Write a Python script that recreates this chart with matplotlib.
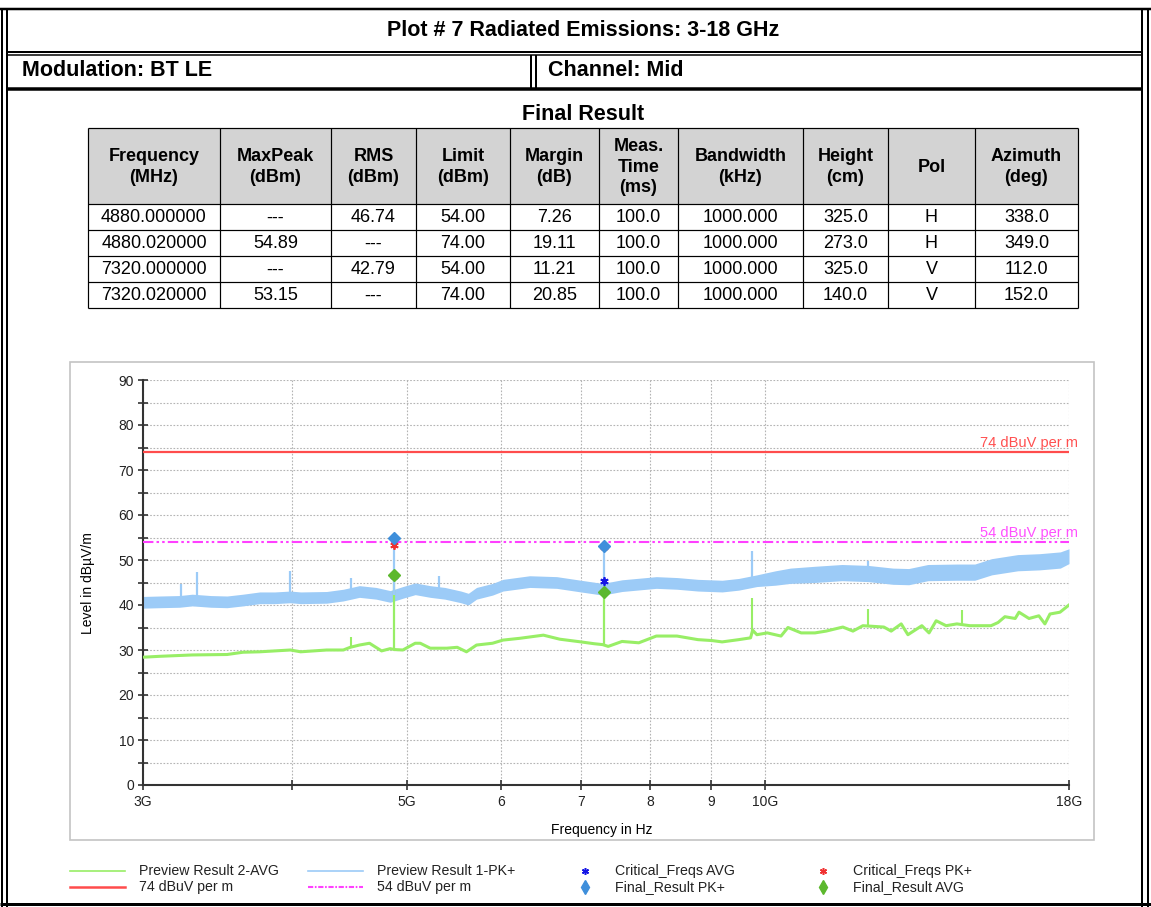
import numpy as np
import matplotlib
matplotlib.use('Agg')
import matplotlib.pyplot as plt
from matplotlib.patches import Rectangle
from matplotlib.lines import Line2D
from matplotlib.ticker import FixedLocator, NullFormatter

# ---------------- data ----------------
title = "Plot # 7 Radiated Emissions: 3-18 GHz"
modulation = "Modulation: BT LE"
channel = "Channel: Mid"

col_headers = ["Frequency\n(MHz)", "MaxPeak\n(dBm)", "RMS\n(dBm)", "Limit\n(dBm)", "Margin\n(dB)",
               "Meas.\nTime\n(ms)", "Bandwidth\n(kHz)", "Height\n(cm)", "Pol", "Azimuth\n(deg)"]
frequency_mhz = ["4880.000000", "4880.020000", "7320.000000", "7320.020000"]
maxpeak = ["---", "54.89", "---", "53.15"]
rms = ["46.74", "---", "42.79", "---"]
limit = ["54.00", "74.00", "54.00", "74.00"]
margin = ["7.26", "19.11", "11.21", "20.85"]
meas_time = ["100.0", "100.0", "100.0", "100.0"]
bandwidth = ["1000.000", "1000.000", "1000.000", "1000.000"]
height = ["325.0", "273.0", "325.0", "140.0"]
pol = ["H", "H", "V", "V"]
azimuth = ["338.0", "349.0", "112.0", "152.0"]

# Preview Result 1-PK+ (band envelope, GHz / dBuV/m)
pk_freq = [3.00, 3.10, 3.22, 3.30, 3.42, 3.53, 3.64, 3.76, 3.87, 3.99,
           4.07, 4.28, 4.42, 4.56, 4.71, 4.84, 4.96, 5.08, 5.23, 5.38,
           5.55, 5.63, 5.72, 5.90, 6.02, 6.34, 6.68, 7.00, 7.30, 7.58,
           8.10, 8.43, 8.78, 9.20, 9.50, 9.84, 10.2, 10.5, 11.0, 11.6,
           12.2, 12.8, 13.2, 13.7, 14.5, 15.0, 15.5, 16.3, 17.0, 17.7, 18.0]
pk_low = [39.3, 39.4, 39.5, 39.8, 39.5, 39.4, 39.8, 40.3, 40.3, 40.5,
          40.3, 40.4, 40.9, 41.7, 41.3, 40.6, 41.5, 42.3, 41.7, 41.3,
          40.5, 40.0, 41.3, 42.2, 43.1, 43.9, 43.7, 42.9, 42.2, 43.0,
          43.7, 43.5, 43.1, 42.9, 43.3, 44.1, 44.4, 44.8, 45.0, 45.4,
          45.2, 44.6, 44.5, 45.4, 45.5, 45.5, 46.7, 47.6, 47.8, 48.2, 49.2]
pk_high = [41.9, 42.0, 42.1, 42.4, 42.1, 42.0, 42.4, 42.9, 42.9, 43.1,
           42.9, 43.0, 43.5, 44.3, 43.9, 43.2, 44.1, 44.9, 44.3, 43.9,
           43.1, 42.6, 43.9, 44.8, 45.7, 46.5, 46.3, 45.5, 44.8, 45.6,
           46.3, 46.1, 45.7, 45.5, 45.9, 46.7, 47.6, 48.2, 48.6, 49.0,
           48.8, 48.2, 48.1, 49.0, 49.1, 49.1, 50.3, 51.2, 51.4, 51.8, 52.5]
pk_spike_freq = [3.23, 3.33, 3.99, 4.49, 5.32, 9.74, 12.19]
pk_spike_level = [44.7, 47.4, 47.6, 46.0, 46.4, 52.1, 49.8]

# Preview Result 2-AVG
avg_freq = [3.00, 3.10, 3.30, 3.53, 3.64, 3.76, 3.99, 4.07, 4.28, 4.42,
            4.48, 4.56, 4.65, 4.76, 4.84, 4.88, 4.96, 5.08, 5.13, 5.23,
            5.40, 5.51, 5.61, 5.72, 5.90, 6.02, 6.22, 6.51, 6.72, 7.00,
            7.18, 7.30, 7.38, 7.58, 7.83, 8.10, 8.43, 8.78, 9.02, 9.20,
            9.50, 9.72, 9.76, 9.84, 10.04, 10.31, 10.45, 10.72, 11.01, 11.25,
            11.62, 11.85, 12.08, 12.58, 12.76, 13.01, 13.18, 13.54, 13.73, 13.92,
            14.19, 14.49, 14.86, 15.18, 15.48, 15.69, 15.90, 16.22, 16.34, 16.66,
            16.98, 17.18, 17.35, 17.69, 18.0]
avg_level = [28.4, 28.6, 28.9, 29.0, 29.5, 29.6, 30.0, 29.6, 30.0, 30.0,
             30.6, 31.1, 31.5, 29.8, 30.3, 30.1, 30.0, 31.5, 31.5, 30.4,
             30.4, 30.6, 29.6, 31.1, 31.5, 32.2, 32.6, 33.3, 32.4, 31.8,
             31.4, 31.2, 30.8, 31.9, 31.6, 33.1, 33.1, 32.3, 32.1, 31.8,
             32.3, 32.7, 34.4, 33.4, 33.8, 33.1, 35.0, 33.8, 33.8, 34.2,
             35.1, 34.2, 35.4, 35.1, 34.2, 35.8, 33.4, 35.4, 33.8, 36.5,
             35.4, 35.8, 35.4, 35.4, 35.4, 36.1, 37.4, 37.0, 38.4, 37.0,
             37.6, 35.8, 38.0, 38.4, 40.0]
avg_spike_freq = [4.49, 9.74, 12.19, 14.62]
avg_spike_level = [32.9, 41.5, 39.2, 38.9]

crit_freq = [4.88, 7.32]
crit_avg_level = [46.5, 45.3]
crit_pk_level = [53.3, 53.0]

limit_pk = 74.0
limit_avg = 54.0

x_ticks = [3, 4, 5, 6, 7, 8, 9, 10, 18]
x_ticklabels = ["3G", "", "5G", "6", "7", "8", "9", "10G", "18G"]

# ---------------- figure ----------------
W, H = 1151, 907
plt.rcParams['font.family'] = ['Liberation Sans', 'DejaVu Sans']
fig = plt.figure(figsize=(W / 100, H / 100), dpi=100)
fig.patch.set_facecolor('white')

bg = fig.add_axes([0, 0, 1, 1])
bg.set_xlim(0, W)
bg.set_ylim(H, 0)
bg.axis('off')

def px(v):
    return v * 0.72

def hl(y, x0, x1, lw=1.5, c='black'):
    bg.plot([x0, x1], [y, y], color=c, lw=px(lw), solid_capstyle='butt')

def vl(x, y0, y1, lw=1.5, c='black'):
    bg.plot([x, x], [y0, y1], color=c, lw=px(lw), solid_capstyle='butt')

# outer frame
hl(9, 0, W, 2.5)
vl(2, 9, H, 2)
vl(7, 9, H, 2)
vl(1142, 9, H, 2)
vl(1148, 9, H, 2)
hl(52, 7, 1142, 2)
hl(55, 7, 1142, 1.5)
vl(531, 55, 88, 2)
vl(536, 55, 88, 2)
hl(89, 7, 1142, 3.5)
hl(904, 0, W, 3)

HEAD_FS = 15.5
bg.text(583, 31, title, ha='center', va='center', fontsize=HEAD_FS, fontweight='bold')
bg.text(22, 71, modulation, ha='left', va='center', fontsize=HEAD_FS, fontweight='bold')
bg.text(548, 71, channel, ha='left', va='center', fontsize=HEAD_FS, fontweight='bold')
bg.text(583, 115, "Final Result", ha='center', va='center', fontsize=HEAD_FS, fontweight='bold')

# table
col_x = [88, 220, 331, 416, 510, 599, 678, 803, 888, 975, 1078]
row_y = [128, 204, 230, 256, 282, 308]
bg.add_patch(Rectangle((col_x[0], row_y[0]), col_x[-1] - col_x[0], row_y[1] - row_y[0],
                       facecolor='#d3d3d3', edgecolor='none'))
for x in col_x:
    vl(x, row_y[0], row_y[-1], 1.2)
for y in row_y:
    hl(y, col_x[0], col_x[-1], 1.2)
columns = [frequency_mhz, maxpeak, rms, limit, margin, meas_time, bandwidth, height, pol, azimuth]
for i, hdr in enumerate(col_headers):
    cx = (col_x[i] + col_x[i + 1]) / 2
    bg.text(cx, (row_y[0] + row_y[1]) / 2 + 1, hdr, ha='center', va='center', fontsize=13,
            fontweight='bold', linespacing=1.3)
    for r, val in enumerate(columns[i]):
        bg.text(cx, (row_y[r + 1] + row_y[r + 2]) / 2 + 1, val, ha='center', va='center', fontsize=13)

# plot frame
bg.add_patch(Rectangle((70, 362), 1024, 478, facecolor='none', edgecolor='#c4c4c4', lw=1.2))

# ---------------- chart ----------------
ax = fig.add_axes([143 / W, 1 - 785 / H, (1069 - 143) / W, (785 - 380) / H])
ax.set_xscale('log')
ax.set_xlim(3, 18)
ax.set_ylim(0, 90)
ax.set_facecolor('none')

PK_C = '#9ccbf7'
AVG_C = '#98ee66'
ASTER = (6, 2, 0)

ax.fill_between(pk_freq, pk_low, pk_high, color=PK_C, lw=0, zorder=2)
pk_mid = (np.array(pk_low) + np.array(pk_high)) / 2
ax.vlines(pk_spike_freq, np.interp(pk_spike_freq, pk_freq, pk_mid), pk_spike_level,
          color=PK_C, lw=1.6, zorder=2)
ax.plot(avg_freq, avg_level, color=AVG_C, lw=2.2, zorder=3)
ax.vlines(avg_spike_freq, np.interp(avg_spike_freq, avg_freq, avg_level), avg_spike_level,
          color=AVG_C, lw=1.5, zorder=3)

final_freq = [float(f) / 1000 for f in frequency_mhz]
fr_pk_f = [final_freq[i] for i in range(4) if maxpeak[i] != "---"]
fr_pk_v = [float(maxpeak[i]) for i in range(4) if maxpeak[i] != "---"]
fr_avg_f = [final_freq[i] for i in range(4) if rms[i] != "---"]
fr_avg_v = [float(rms[i]) for i in range(4) if rms[i] != "---"]

ax.vlines(fr_avg_f, np.interp(fr_avg_f, avg_freq, avg_level), fr_avg_v, color=AVG_C, lw=1.6, zorder=4)
ax.vlines(fr_pk_f, np.interp(fr_pk_f, pk_freq, pk_mid), fr_pk_v, color=PK_C, lw=1.6, zorder=5)

ax.axhline(limit_pk, color='#ff4c4c', lw=1.6, zorder=4)
ax.axhline(limit_avg, color='#ff40ff', lw=1.5, dashes=[5, 1.5, 1.2, 1.5, 1.2, 1.5], zorder=4)
ax.text(1.01, limit_pk + 0.5, "74 dBuV per m", transform=ax.get_yaxis_transform(), ha='right',
        va='bottom', fontsize=10.5, color='#ff5050', zorder=6)
ax.text(1.01, limit_avg + 0.5, "54 dBuV per m", transform=ax.get_yaxis_transform(), ha='right',
        va='bottom', fontsize=10.5, color='#ff50ff', zorder=6)

ax.plot(crit_freq, crit_avg_level, ls='none', marker=ASTER, ms=6, mew=1.3, color='#1515e6', zorder=6)
ax.plot(crit_freq, crit_pk_level, ls='none', marker=ASTER, ms=6, mew=1.3, color='#f03030', zorder=6)
ax.plot(fr_pk_f, fr_pk_v, ls='none', marker='D', ms=6.5, color='#3f8fdb', zorder=7)
ax.plot(fr_avg_f, fr_avg_v, ls='none', marker='D', ms=6.5, color='#5cb82e', zorder=7)

# axes styling
ax.xaxis.set_major_locator(FixedLocator(x_ticks))
ax.xaxis.set_minor_locator(FixedLocator([]))
ax.set_xticklabels(x_ticklabels)
ax.xaxis.set_minor_formatter(NullFormatter())
ax.yaxis.set_major_locator(FixedLocator(list(range(0, 91, 10))))
ax.yaxis.set_minor_locator(FixedLocator(list(range(5, 90, 10))))
ax.tick_params(axis='both', which='both', direction='inout', color='#333333', labelsize=10,
               labelcolor='#222222')
ax.tick_params(axis='both', which='major', length=7, width=1.2)
ax.tick_params(axis='y', which='minor', length=7, width=1.2)
ax.tick_params(axis='x', which='major', pad=4)
ax.tick_params(axis='y', which='major', pad=3)
ax.grid(True, which='both', axis='y', color='#b4b4b4', ls=(0, (1.5, 1.5)), lw=0.8)
ax.grid(True, which='major', axis='x', color='#b4b4b4', ls=(0, (1.5, 1.5)), lw=0.8)
for s in ['top', 'right']:
    ax.spines[s].set_visible(False)
for s in ['left', 'bottom']:
    ax.spines[s].set_color('#333333')
    ax.spines[s].set_linewidth(1.5)
ax.set_axisbelow(True)

fig.text(88 / W, 1 - 583 / H, "Level in dB\u00b5V/m", rotation=90, ha='center', va='center', fontsize=10)
fig.text(602 / W, 1 - 830 / H, "Frequency in Hz", ha='center', va='center', fontsize=10)

# ---------------- legend ----------------
LEG_FS = 10.2
entries = [
    (70, 871, 'line', dict(color=AVG_C, lw=1.2), "Preview Result 2-AVG"),
    (70, 887, 'line', dict(color='#ff4c4c', lw=1.8), "74 dBuV per m"),
    (308, 871, 'line', dict(color=PK_C, lw=1.2), "Preview Result 1-PK+"),
    (308, 887, 'line', dict(color='#ff40ff', lw=1.5, dashes=[2.5, 0.8, 0.8, 0.8]), "54 dBuV per m"),
    (585, 871, 'mark', dict(marker=ASTER, ms=5, mew=1.1, color='#1515e6'), "Critical_Freqs AVG"),
    (585, 887, 'mark', dict(marker='d', ms=7.5, color='#3f8fdb'), "Final_Result PK+"),
    (823, 871, 'mark', dict(marker=ASTER, ms=5, mew=1.1, color='#f03030'), "Critical_Freqs PK+"),
    (823, 887, 'mark', dict(marker='d', ms=7.5, color='#5cb82e'), "Final_Result AVG"),
]
for x, y, kind, st, label in entries:
    if kind == 'line':
        bg.add_line(Line2D([x, x + 55], [y, y], **st))
        tx = x + 69
    else:
        bg.add_line(Line2D([x], [y], ls='none', **st))
        tx = x + 30
    bg.text(tx, y, label, ha='left', va='center', fontsize=LEG_FS, color='#222222')

fig.savefig('out.png', dpi=100, facecolor='white')
